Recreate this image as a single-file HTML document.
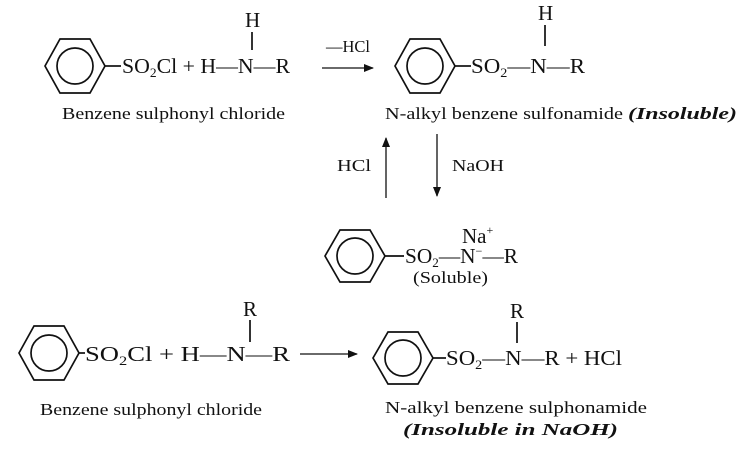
<!DOCTYPE html>
<html><head><style>body{margin:0;background:#fff}svg{display:block}text{font-family:"Liberation Serif",serif;fill:#111}</style></head><body>
<svg width="748" height="450" viewBox="0 0 748 450" xmlns="http://www.w3.org/2000/svg">
<defs><marker id="a" markerWidth="10" markerHeight="8" refX="9" refY="4" orient="auto" markerUnits="userSpaceOnUse"><path d="M0,0 L10,4 L0,8 Z" fill="#111"/></marker></defs>
<g stroke="#111" stroke-width="1.7" fill="none">
<polygon points="45,66 60,39 90,39 105,66 90,93 60,93"/><circle cx="75" cy="66" r="18"/>
<line x1="105" y1="66" x2="121" y2="66"/>
<polygon points="395,66 410,39 440,39 455,66 440,93 410,93"/><circle cx="425" cy="66" r="18"/>
<line x1="455" y1="66" x2="471" y2="66"/>
<polygon points="325,256 340,230 370,230 385,256 370,282 340,282"/><circle cx="355" cy="256" r="18"/>
<line x1="385" y1="256" x2="404" y2="256"/>
<polygon points="19,353 34,326 64,326 79,353 64,380 34,380"/><circle cx="49" cy="353" r="18"/>
<line x1="79" y1="353" x2="85" y2="353"/>
<polygon points="373,358 388,332 418,332 433,358 418,384 388,384"/><circle cx="403" cy="358" r="18"/>
<line x1="433" y1="358" x2="446" y2="358"/>
<line x1="252" y1="32" x2="252" y2="50"/>
<line x1="545" y1="25" x2="545" y2="46"/>
<line x1="250" y1="320" x2="250" y2="342"/>
<line x1="517" y1="322" x2="517" y2="343"/>
<line x1="322" y1="68" x2="373" y2="68" marker-end="url(#a)" stroke-width="1.3"/>
<line x1="386" y1="198" x2="386" y2="138" marker-end="url(#a)" stroke-width="1.3"/>
<line x1="437" y1="134" x2="437" y2="196" marker-end="url(#a)" stroke-width="1.3"/>
<line x1="300" y1="354" x2="357" y2="354" marker-end="url(#a)" stroke-width="1.3"/>
</g>
<g font-size="21">
<text x="245" y="27">H</text>
<text x="122" y="73" textLength="168" lengthAdjust="spacingAndGlyphs">SO<tspan font-size="13" dy="4">2</tspan><tspan dy="-4">Cl + H—N—R</tspan></text>
<text x="538" y="20">H</text>
<text x="471" y="73" textLength="114" lengthAdjust="spacingAndGlyphs">SO<tspan font-size="13" dy="4">2</tspan><tspan dy="-4">—N—R</tspan></text>
<text x="462" y="243">Na<tspan font-size="12" dy="-9">+</tspan></text>
<text x="405" y="263" textLength="113" lengthAdjust="spacingAndGlyphs">SO<tspan font-size="13" dy="4">2</tspan><tspan dy="-4">—N</tspan><tspan font-size="12" dy="-8">−</tspan><tspan dy="8">—R</tspan></text>
<text x="243" y="316">R</text>
<text x="85" y="361" textLength="205" lengthAdjust="spacingAndGlyphs">SO<tspan font-size="13" dy="4">2</tspan><tspan dy="-4">Cl + H—N—R</tspan></text>
<text x="510" y="318">R</text>
<text x="446" y="365" textLength="176" lengthAdjust="spacingAndGlyphs">SO<tspan font-size="13" dy="4">2</tspan><tspan dy="-4">—N—R + HCl</tspan></text>
</g>
<g font-size="17">
<text x="326" y="52" textLength="44" lengthAdjust="spacingAndGlyphs">—HCl</text>
<text x="62" y="119" textLength="223" lengthAdjust="spacingAndGlyphs">Benzene sulphonyl chloride</text>
<text x="385" y="119" textLength="238" lengthAdjust="spacingAndGlyphs">N-alkyl benzene sulfonamide</text>
<text x="628" y="119" font-weight="bold" font-style="italic" textLength="109" lengthAdjust="spacingAndGlyphs">(Insoluble)</text>
<text x="337" y="171" textLength="34" lengthAdjust="spacingAndGlyphs">HCl</text>
<text x="452" y="171" textLength="52" lengthAdjust="spacingAndGlyphs">NaOH</text>
<text x="413" y="283" textLength="75" lengthAdjust="spacingAndGlyphs">(Soluble)</text>
<text x="40" y="415" textLength="222" lengthAdjust="spacingAndGlyphs">Benzene sulphonyl chloride</text>
<text x="385" y="413" textLength="262" lengthAdjust="spacingAndGlyphs">N-alkyl benzene sulphonamide</text>
<text x="403" y="435" font-weight="bold" font-style="italic" textLength="215" lengthAdjust="spacingAndGlyphs">(Insoluble in NaOH)</text>
</g>
</svg>
</body></html>
